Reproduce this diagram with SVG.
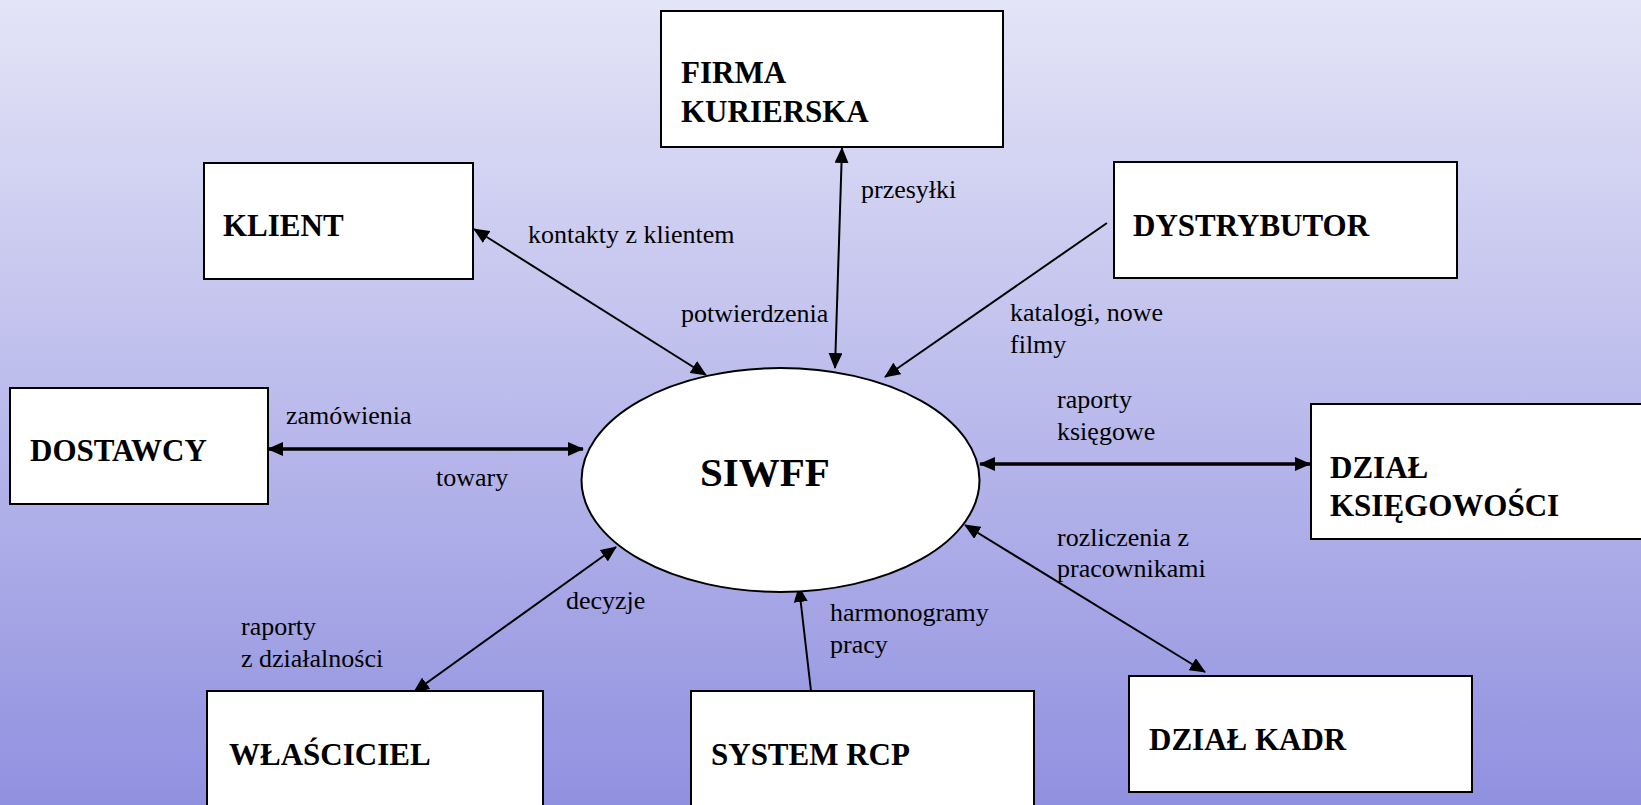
<svg xmlns="http://www.w3.org/2000/svg" width="1641" height="805" viewBox="0 0 1641 805">
<defs>
<linearGradient id="bg" x1="0" y1="0" x2="0" y2="1">
<stop offset="0" stop-color="#e4e4f7"/>
<stop offset="0.5" stop-color="#bbbbec"/>
<stop offset="1" stop-color="#9090e0"/>
</linearGradient>
<marker id="ah" markerUnits="userSpaceOnUse" markerWidth="16" markerHeight="14" refX="15" refY="7" orient="auto-start-reverse">
<path d="M0,0 L16,7 L0,14 z" fill="#000"/>
</marker>
<style>
.box{fill:#fff;stroke:#000;stroke-width:2}
.nt{font-family:"Liberation Serif","Times New Roman",serif;font-weight:bold;font-size:31px;fill:#000}
.lb{font-family:"Liberation Serif","Times New Roman",serif;font-size:26px;fill:#000}
.c{fill:none;stroke:#000;stroke-width:2}
.ct{fill:none;stroke:#000;stroke-width:3.5}
</style>
</defs>
<rect x="0" y="0" width="1641" height="805" fill="url(#bg)"/>

<g id="connectors">
<line class="c" x1="474" y1="229" x2="706" y2="375" marker-start="url(#ah)" marker-end="url(#ah)"/>
<line class="c" x1="842" y1="148" x2="835" y2="368" marker-start="url(#ah)" marker-end="url(#ah)"/>
<line class="c" x1="1107" y1="223" x2="885" y2="377" marker-end="url(#ah)"/>
<line class="ct" x1="268" y1="449" x2="583" y2="449" marker-start="url(#ah)" marker-end="url(#ah)"/>
<line class="ct" x1="980" y1="464" x2="1310" y2="464" marker-start="url(#ah)" marker-end="url(#ah)"/>
<line class="c" x1="965" y1="525" x2="1205" y2="672" marker-start="url(#ah)" marker-end="url(#ah)"/>
<line class="c" x1="616" y1="547" x2="414" y2="692" marker-start="url(#ah)" marker-end="url(#ah)"/>
<line class="c" x1="811" y1="691" x2="799" y2="587" marker-end="url(#ah)"/>
<text class="lb" x="528" y="243">kontakty z klientem</text>
<text class="lb" x="681" y="322">potwierdzenia</text>
<text class="lb" x="861" y="198">przesyłki</text>
<text class="lb" x="1010" y="321">katalogi, nowe</text>
<text class="lb" x="1010" y="353">filmy</text>
<text class="lb" x="286" y="424">zamówienia</text>
<text class="lb" x="436" y="486">towary</text>
<text class="lb" x="1057" y="408">raporty</text>
<text class="lb" x="1057" y="440">księgowe</text>
<text class="lb" x="1057" y="546">rozliczenia z</text>
<text class="lb" x="1057" y="577">pracownikami</text>
<text class="lb" x="566" y="609">decyzje</text>
<text class="lb" x="241" y="635">raporty</text>
<text class="lb" x="241" y="667">z działalności</text>
<text class="lb" x="830" y="621">harmonogramy</text>
<text class="lb" x="830" y="653">pracy</text>
</g>

<g id="siwff">
<ellipse cx="780.5" cy="480" rx="199" ry="112" fill="#fff" stroke="#000" stroke-width="2"/>
<text x="700" y="486" font-family="Liberation Serif, serif" font-weight="bold" font-size="41">SIWFF</text>
</g>
<g id="firma-kurierska">
<rect class="box" x="661" y="11" width="342" height="136"/>
<text class="nt" x="681" y="83">FIRMA</text>
<text class="nt" x="681" y="122">KURIERSKA</text>
</g>
<g id="klient">
<rect class="box" x="204" y="163" width="269" height="116"/>
<text class="nt" x="223" y="236">KLIENT</text>
</g>
<g id="dystrybutor">
<rect class="box" x="1114" y="162" width="343" height="116"/>
<text class="nt" x="1133" y="236">DYSTRYBUTOR</text>
</g>
<g id="dostawcy">
<rect class="box" x="10" y="388" width="258" height="116"/>
<text class="nt" x="30" y="461">DOSTAWCY</text>
</g>
<g id="dzial-ksiegowosci">
<rect class="box" x="1311" y="404" width="340" height="135"/>
<text class="nt" x="1330" y="478">DZIAŁ</text>
<text class="nt" x="1330" y="516">KSIĘGOWOŚCI</text>
</g>
<g id="wlasciciel">
<rect class="box" x="207" y="691" width="336" height="130"/>
<text class="nt" x="229" y="765">WŁAŚCICIEL</text>
</g>
<g id="system-rcp">
<rect class="box" x="691" y="691" width="343" height="130"/>
<text class="nt" x="711" y="765">SYSTEM RCP</text>
</g>
<g id="dzial-kadr">
<rect class="box" x="1129" y="676" width="343" height="116"/>
<text class="nt" x="1149" y="750">DZIAŁ KADR</text>
</g>
</svg>
